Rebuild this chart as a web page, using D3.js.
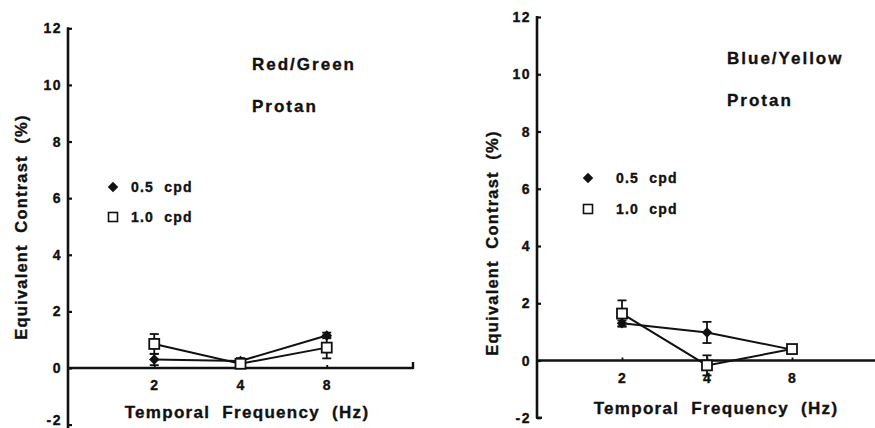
<!DOCTYPE html>
<html>
<head>
<meta charset="utf-8">
<script src="https://cdn.jsdelivr.net/npm/d3@7"></script>
<style>
  html, body { margin: 0; padding: 0; background: #fff; }
  svg { display: block; }
  text { font-family: "Liberation Sans", Arial, Helvetica, sans-serif; font-weight: bold; fill: #111; stroke: #111; stroke-width: 0.35px; }
</style>
</head>
<body>
<svg id="chart" width="875" height="428"></svg>
<script>
// ---- data ----
const frequencies = [2, 4, 8];
const xTickLabels = ["2", "4", "8"];
const yTicks = [-2, 0, 2, 4, 6, 8, 10, 12];
const seriesNames = ["0.5 cpd", "1.0 cpd"];

const rgTitle = ["Red/Green", "Protan"];
const rgHalfCpd = [0.3, 0.25, 1.15];
const rgHalfCpdErr = [0.2, 0.1, 0.1];
const rgOneCpd = [0.85, 0.15, 0.72];
const rgOneCpdErr = [0.35, 0.1, 0.38];

const byTitle = ["Blue/Yellow", "Protan"];
const byHalfCpd = [1.3, 0.98, 0.38];
const byHalfCpdErr = [0.1, 0.37, 0.1];
const byOneCpd = [1.64, -0.17, 0.4];
const byOneCpdErr = [0.46, 0.35, 0.1];

const xTitle = "Temporal  Frequency  (Hz)";
const yTitle = "Equivalent  Contrast  (%)";

// ---- layout ----
const panels = [
  { title: rgTitle, half: rgHalfCpd, halfErr: rgHalfCpdErr, one: rgOneCpd, oneErr: rgOneCpdErr,
    x0: 68, x1: 413, yTop: 28.3, yZero: 368, axisBottom: 430, endTickX: true, endTickY: false,
    titleX: 252, titleY: [70, 112], legX: 113, legY: [187, 217], textX: 131,
    yTitleX: 27, yTitleY: 227, xLabelY: 390, xTitleY: 418, xTitleX: 247, minusTwoY: 420 },
  { title: byTitle, half: byHalfCpd, halfErr: byHalfCpdErr, one: byOneCpd, oneErr: byOneCpdErr,
    x0: 537, x1: 877, yTop: 17, yZero: 360.5, axisBottom: 418, endTickX: false, endTickY: true,
    titleX: 727, titleY: [64, 106], legX: 588, legY: [178, 209], textX: 616,
    yTitleX: 498, yTitleY: 243, xLabelY: 383, xTitleY: 414, xTitleX: 716, minusTwoY: null }
];

const svg = d3.select("#chart");

panels.forEach(p => {
  const g = svg.append("g");
  const x = d3.scaleLog().base(2).domain([1, 16]).range([p.x0, p.x1]);
  const pxPerUnit = (p.yZero - p.yTop) / 12;
  const y = d3.scaleLinear().domain([-2, 12]).range([p.yZero + 2 * pxPerUnit, p.yTop]);

  // y axis
  const yAxis = d3.axisRight(y).tickValues(yTicks).tickSize(4).tickFormat("");
  const ya = g.append("g").attr("transform", `translate(${p.x0},0)`).call(yAxis);
  ya.select(".domain").remove();
  ya.selectAll(".tick line").attr("stroke", "#111").attr("stroke-width", 2.2);
  g.append("line").attr("x1", p.x0).attr("x2", p.x0)
    .attr("y1", y(12) - 1).attr("y2", p.axisBottom)
    .attr("stroke", "#111").attr("stroke-width", 2.6);

  // y tick labels
  g.selectAll(".ylab").data(yTicks).join("text")
    .attr("x", p.x0 - 6)
    .attr("y", d => (d === -2 && p.minusTwoY) ? p.minusTwoY : y(d))
    .attr("dy", "0.36em").attr("text-anchor", "end")
    .attr("font-size", 14).attr("letter-spacing", 1.5)
    .text(d => d);

  // x axis
  const xAxis = d3.axisTop(x).tickValues(frequencies).tickSize(3).tickFormat("");
  const xa = g.append("g").attr("transform", `translate(0,${y(0)})`).call(xAxis);
  xa.select(".domain").remove();
  xa.selectAll(".tick line").attr("stroke", "#111").attr("stroke-width", 1.8);
  g.append("line").attr("x1", p.x0).attr("x2", p.x1)
    .attr("y1", y(0)).attr("y2", y(0))
    .attr("stroke", "#111").attr("stroke-width", 2.6);
  if (p.endTickX) {
    g.append("line").attr("x1", p.x1).attr("x2", p.x1)
      .attr("y1", y(0) + 1).attr("y2", y(0) - 6)
      .attr("stroke", "#111").attr("stroke-width", 2.4);
  }
  if (p.endTickY) {
    g.append("line").attr("x1", p.x0 - 1).attr("x2", p.x0 + 5)
      .attr("y1", y(-2)).attr("y2", y(-2))
      .attr("stroke", "#111").attr("stroke-width", 2.4);
  }

  g.selectAll(".xlab").data(frequencies).join("text")
    .attr("x", d => x(d)).attr("y", p.xLabelY)
    .attr("text-anchor", "middle").attr("font-size", 14)
    .text((d, i) => xTickLabels[i]);

  // axis titles
  g.append("text").attr("x", p.xTitleX).attr("y", p.xTitleY)
    .attr("text-anchor", "middle").attr("font-size", 17).attr("letter-spacing", 1.3)
    .style("white-space", "pre")
    .text(xTitle);
  g.append("text")
    .attr("transform", `translate(${p.yTitleX},${p.yTitleY}) rotate(-90)`)
    .attr("text-anchor", "middle").attr("font-size", 16.5).attr("letter-spacing", 1.2)
    .style("white-space", "pre")
    .text(yTitle);

  // panel titles
  p.title.forEach((t, i) => {
    g.append("text").attr("x", p.titleX).attr("y", p.titleY[i])
      .attr("font-size", 17).attr("letter-spacing", 2).text(t);
  });

  // lines
  const line = d3.line().x((d, i) => x(frequencies[i])).y(d => y(d));
  [p.half, p.one].forEach(vals => {
    g.append("path").datum(vals).attr("d", line)
      .attr("fill", "none").attr("stroke", "#111").attr("stroke-width", 2);
  });

  // error bars
  function errBars(vals, errs) {
    vals.forEach((v, i) => {
      const cx = x(frequencies[i]);
      g.append("line").attr("x1", cx).attr("x2", cx)
        .attr("y1", y(v - errs[i])).attr("y2", y(v + errs[i]))
        .attr("stroke", "#111").attr("stroke-width", 1.8);
      [v - errs[i], v + errs[i]].forEach(e => {
        g.append("line").attr("x1", cx - 4.5).attr("x2", cx + 4.5)
          .attr("y1", y(e)).attr("y2", y(e))
          .attr("stroke", "#111").attr("stroke-width", 1.8);
      });
    });
  }
  errBars(p.half, p.halfErr);
  errBars(p.one, p.oneErr);

  // markers
  const diamond = d3.symbol().type(d3.symbolDiamond2).size(70);
  g.selectAll(".dia").data(p.half).join("path")
    .attr("transform", (d, i) => `translate(${x(frequencies[i])},${y(d)})`)
    .attr("d", diamond).attr("fill", "#111");
  g.selectAll(".sq").data(p.one).join("rect")
    .attr("x", (d, i) => x(frequencies[i]) - 5).attr("y", d => y(d) - 5)
    .attr("width", 10).attr("height", 10)
    .attr("fill", "#fff").attr("stroke", "#111").attr("stroke-width", 1.8);

  // legend
  g.append("path").attr("transform", `translate(${p.legX},${p.legY[0]})`)
    .attr("d", diamond).attr("fill", "#111");
  g.append("rect").attr("x", p.legX - 4.5).attr("y", p.legY[1] - 4.5)
    .attr("width", 9).attr("height", 9)
    .attr("fill", "#fff").attr("stroke", "#111").attr("stroke-width", 1.6);
  seriesNames.forEach((s, i) => {
    g.append("text").attr("x", p.textX).attr("y", p.legY[i]).attr("dy", "0.36em")
      .attr("font-size", 14).attr("letter-spacing", 1.2).style("white-space", "pre")
      .text(s.replace(" ", "  "));
  });
});
</script>
</body>
</html>
